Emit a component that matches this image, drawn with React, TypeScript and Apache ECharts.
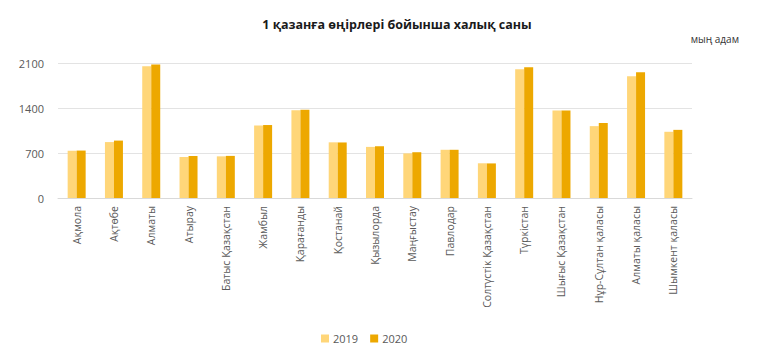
import React, { useEffect, useRef } from "react";
import * as echarts from "echarts";

const categories = [
  "Ақмола", "Ақтөбе", "Алматы", "Атырау", "Батыс Қазақстан", "Жамбыл",
  "Қарағанды", "Қостанай", "Қызылорда", "Маңғыстау", "Павлодар",
  "Солтүстік Қазақстан", "Түркістан", "Шығыс Қазақстан", "Нұр-Сұлтан қаласы",
  "Алматы қаласы", "Шымкент қаласы",
];
const values2019 = [735, 870, 2050, 638, 648, 1126, 1366, 866, 795, 694, 750, 540, 2002, 1362, 1118, 1895, 1030];
const values2020 = [738, 893, 2075, 653, 655, 1135, 1373, 864, 805, 712, 750, 538, 2033, 1362, 1167, 1955, 1060];
const yTicks = [0, 700, 1400, 2100];

const FONT = "Open Sans";

export default function App() {
  const ref = useRef<HTMLDivElement>(null);
  useEffect(() => {
    const chart = echarts.init(ref.current!, null, { renderer: "svg" });
    chart.setOption({
      animation: false,
      backgroundColor: "#ffffff",
      textStyle: { fontFamily: FONT },
      title: {
        text: "1 қазанға өңірлері бойынша халық саны",
        left: 392,
        textAlign: "center",
        top: 13,
        textStyle: { fontFamily: FONT, fontSize: 12.5, fontWeight: "bold", color: "#1a1a1a" },
      },
      graphic: [
        {
          type: "text",
          right: 22,
          top: 34,
          style: { text: "мың адам", fontFamily: FONT, fontSize: 10, fill: "#333333" },
        },
      ],
      legend: {
        bottom: 14,
        left: 316,
        itemWidth: 8,
        itemHeight: 8,
        itemGap: 12,
        icon: "rect",
        textStyle: { fontFamily: FONT, fontSize: 11, color: "#595959", padding: [0, 0, 0, -1] },
        data: ["2019", "2020"],
      },
      grid: { left: 58, right: 69, top: 63, bottom: 165 },
      xAxis: {
        type: "category",
        data: categories,
        axisLine: { lineStyle: { color: "#d9d9d9" } },
        axisTick: { show: false },
        axisLabel: {
          rotate: 90,
          interval: 0,
          margin: 8,
          fontFamily: FONT,
          fontSize: 10.5,
          color: "#595959",
        },
      },
      yAxis: {
        type: "value",
        min: yTicks[0],
        max: yTicks[yTicks.length - 1],
        interval: 700,
        axisLine: { show: false },
        axisTick: { show: false },
        splitLine: { lineStyle: { color: "#e3e3e3" } },
        axisLabel: {
          fontFamily: FONT,
          fontSize: 11,
          color: "#595959",
          margin: 14,
          formatter: (v: number) => String(v),
        },
      },
      series: [
        {
          name: "2019",
          type: "bar",
          data: values2019,
          barWidth: 9,
          barGap: "0%",
          itemStyle: { color: "#FFD679" },
        },
        {
          name: "2020",
          type: "bar",
          data: values2020,
          barWidth: 9,
          itemStyle: { color: "#EDA800" },
        },
      ],
    });
    return () => chart.dispose();
  }, []);
  return <div ref={ref} style={{ width: 761, height: 363, position: "absolute", left: 0, top: 0 }} />;
}
